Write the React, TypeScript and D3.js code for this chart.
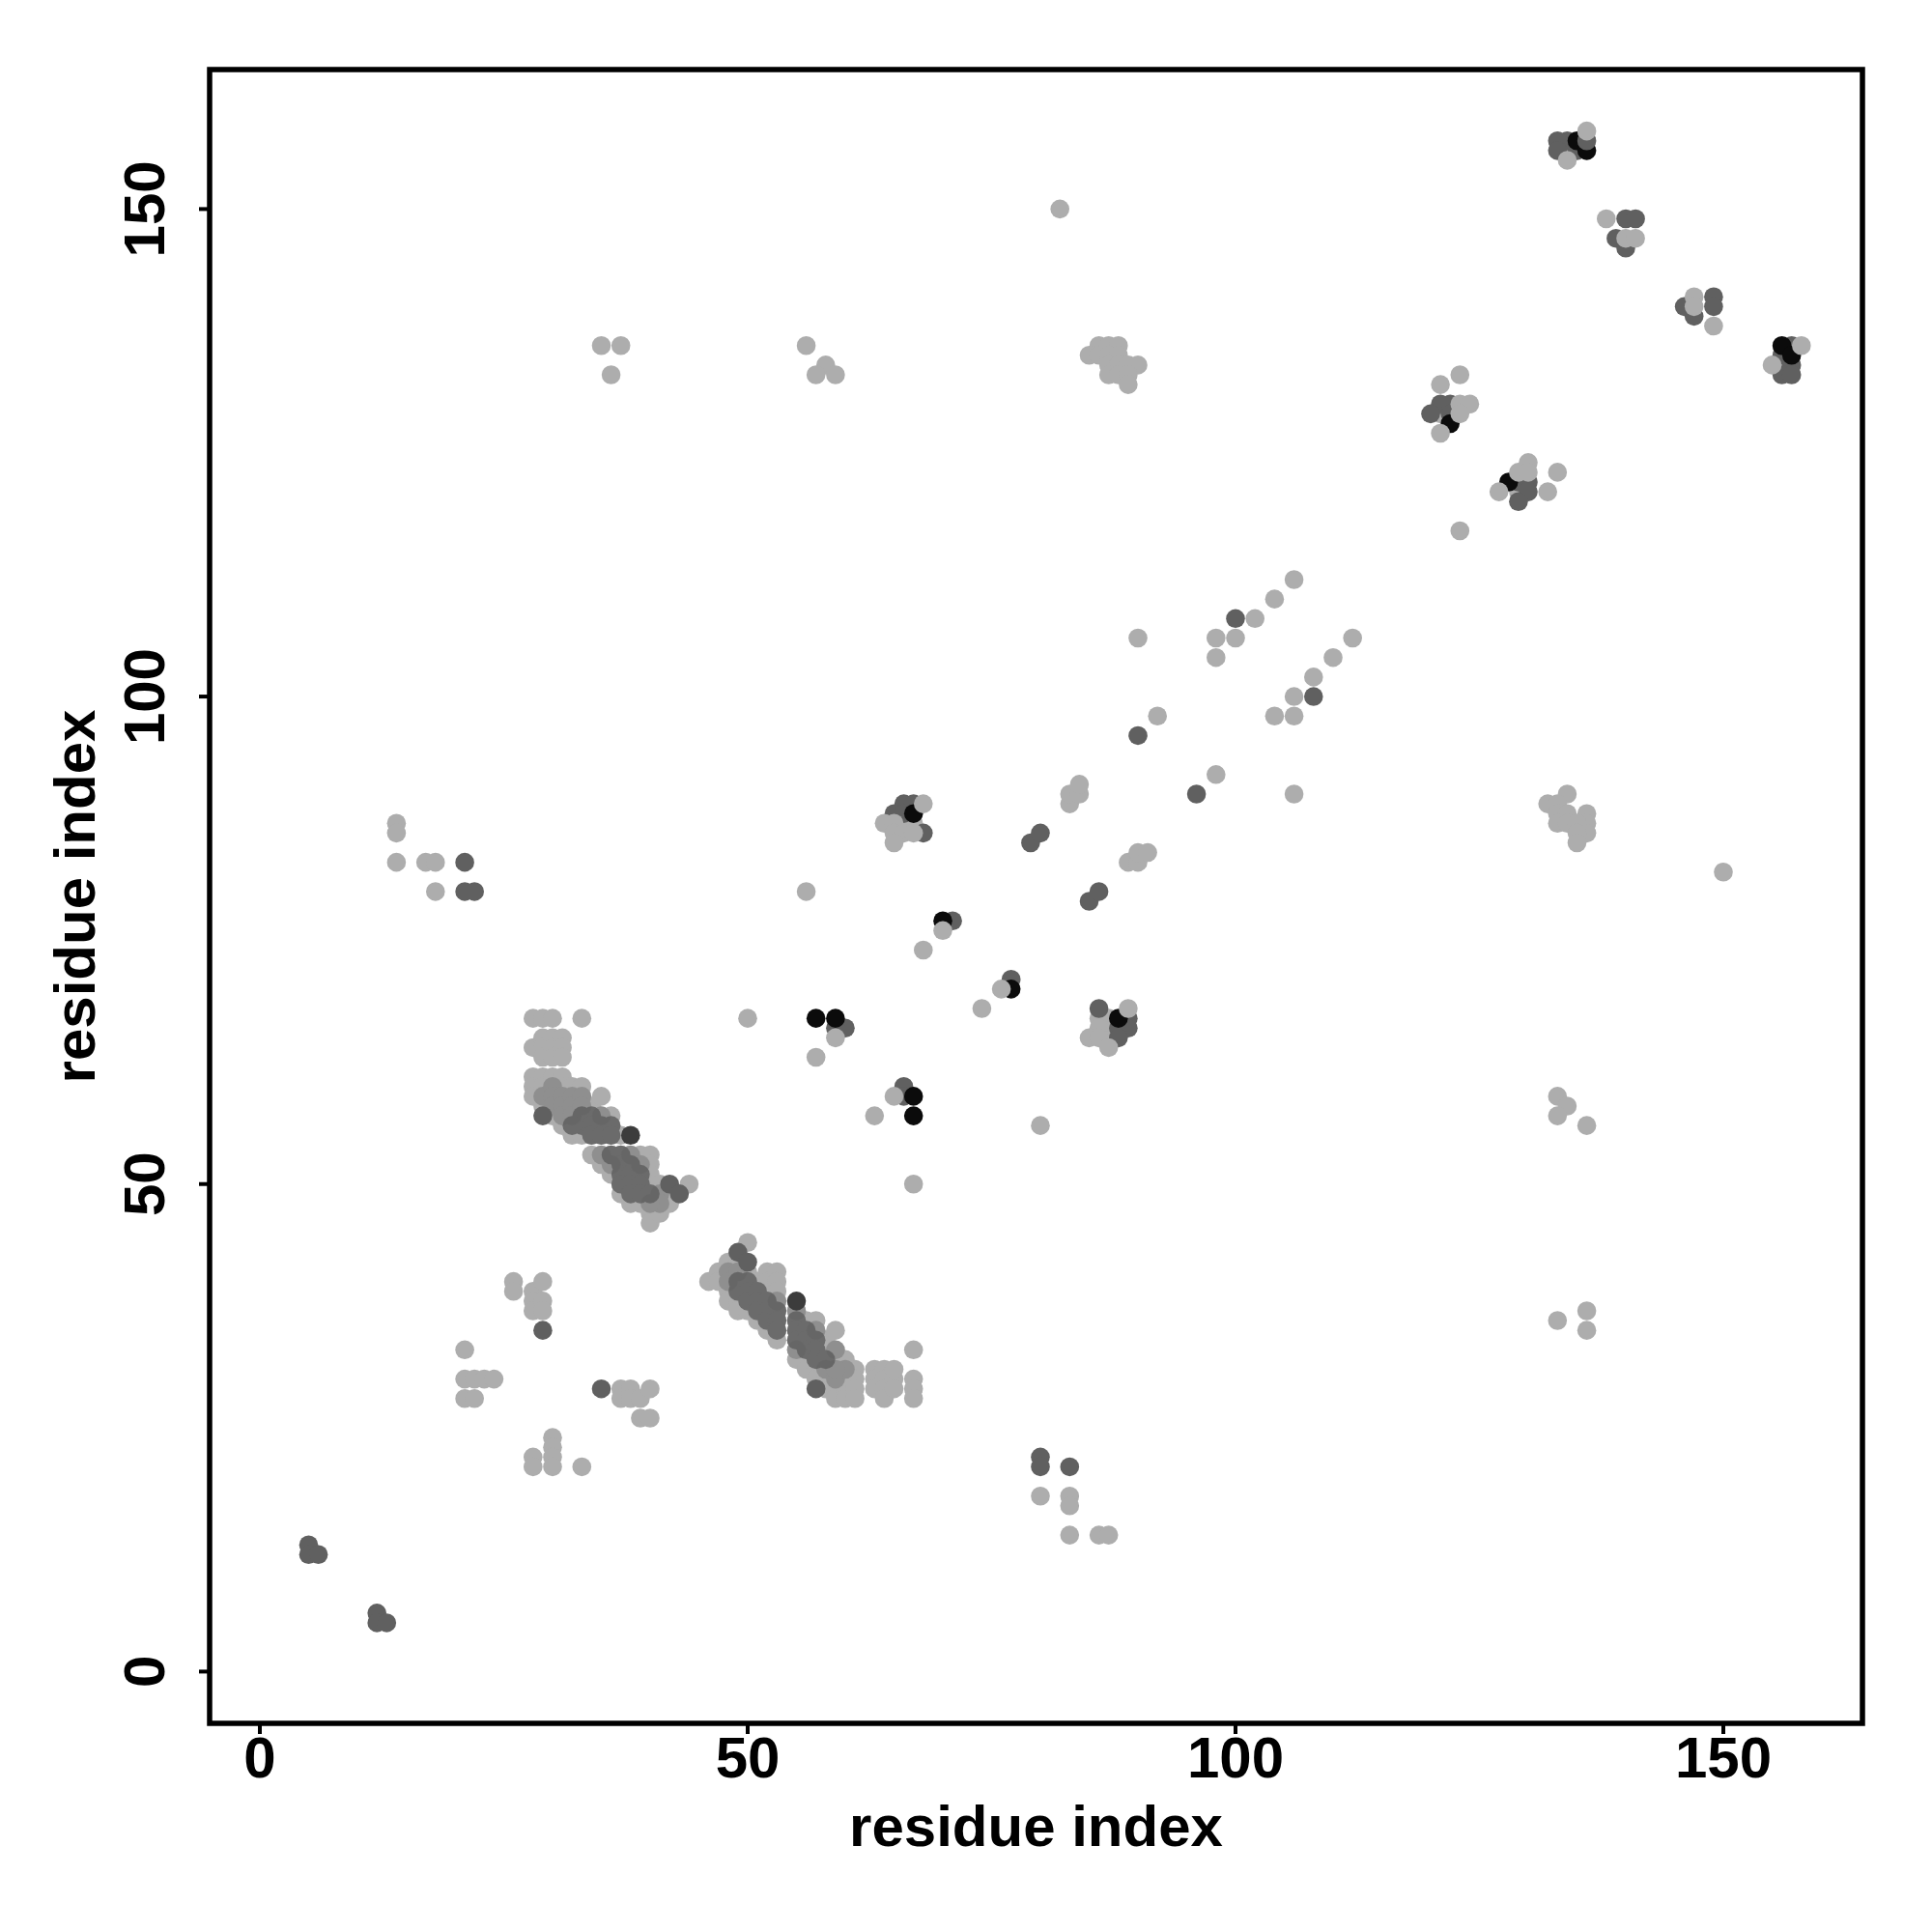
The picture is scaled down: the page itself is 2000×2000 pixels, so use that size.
import React from "react";
import * as d3 from "d3";

type P = [number, number];

const xTicks = [0, 50, 100, 150];
const yTicks = [0, 50, 100, 150];
const xLabel = "residue index";
const yLabel = "residue index";

// dense anti-parallel bands: [residue, residue]
const bandLight: P[] = [
  [28,67],[28,64],[28,61],[28,60],[28,59],
  [29,67],[29,65],[29,64],[29,63],[29,61],[29,60],[29,59],[29,58],
  [30,67],[30,65],[30,64],[30,63],[30,61],[30,60],[30,59],[30,58],[30,57],
  [31,65],[31,64],[31,63],[31,61],[31,60],[31,59],[31,58],[31,57],[31,56],
  [32,60],[32,59],[32,58],[32,57],[32,56],[32,55],
  [33,67],[33,60],[33,59],[33,58],[33,57],[33,56],[33,55],
  [34,58],[34,57],[34,56],[34,55],[34,53],
  [35,59],[35,57],[35,56],[35,55],[35,53],[35,52],
  [36,57],[36,56],[36,55],[36,53],[36,52],[36,51],
  [37,55],[37,53],[37,52],[37,51],[37,50],[37,49],
  [38,53],[38,52],[38,51],[38,50],[38,49],[38,48],
  [39,53],[39,52],[39,51],[39,50],[39,49],[39,48],
  [40,53],[40,52],[40,51],[40,50],[40,49],[40,48],[40,47],[40,46],
  [41,50],[41,49],[41,48],[41,47],[42,49],[42,48],[44,50],
  [46,40],[47,41],[47,40],[48,42],[48,41],[48,40],[48,39],[48,38],
  [49,42],[49,41],[49,40],[49,39],[49,38],[49,37],
  [50,44],[50,41],[50,40],[50,39],[50,38],[50,37],
  [51,40],[51,39],[51,38],[51,37],[51,36],
  [52,41],[52,40],[52,39],[52,38],[52,37],[52,36],[52,35],
  [53,41],[53,40],[53,39],[53,38],[53,37],[53,36],[53,35],[53,34],
  [55,37],[55,36],[55,35],[55,34],[55,33],[55,32],
  [56,36],[56,35],[56,34],[56,33],[56,32],[56,31],
  [57,36],[57,35],[57,34],[57,33],[57,32],[57,31],[57,30],
  [58,34],[58,33],[58,32],[58,31],[58,30],[58,29],
  [59,35],[59,33],[59,32],[59,31],[59,30],[59,29],[59,28],
  [60,32],[60,31],[60,30],[60,29],[60,28],
  [61,31],[61,30],[61,29],[61,28],
  [63,31],[63,30],[63,29],[64,31],[64,30],[64,29],[64,28],[65,30],[65,29],[65,31],
  [67,33],[67,30],[67,29],[67,28],
];
const bandMid: P[] = [
  [29,59],[30,60],[30,59],[30,58],[31,59],[31,58],[31,57],[32,59],[32,58],[32,57],
  [33,59],[33,58],[35,57],[35,53],[38,53],[36,52],[39,52],[41,49],[41,48],[40,48],
  [48,41],[48,40],[49,41],[53,38],[55,37],[55,33],[57,35],[58,31],[59,33],[59,30],[60,31],[59,31],
];
const bandCore: P[] = [
  [33,57],[33,56],[34,57],[34,56],[34,55],[35,56],[35,55],[36,56],[36,55],[32,56],
  [36,53],[37,53],[37,52],[38,52],[37,51],[38,51],[39,51],[37,50],[38,50],[39,50],[38,49],[39,49],[40,49],
  [49,40],[49,39],[50,40],[50,39],[50,38],[51,39],[51,38],[51,37],[52,38],[52,37],[52,36],[53,37],[53,36],[53,35],
  [55,36],[55,35],[55,34],[56,35],[56,34],[56,33],[57,34],[57,33],[57,32],[58,32],
];

const lightUnderPoints: P[] = [
  [134,156],[156,134],[121,129],[129,121],[87,67],[87,66],[87,65],[86,67],[86,66],[67,87],[66,87],
];
const darkPoints: P[] = [
  [5,13],[5,12],[6,12],[12,6],[12,5],[13,5],[29,35],[35,29],[80,22],[80,21],[83,21],
  [21,83],[21,80],[22,80],[29,57],[42,50],[43,49],[49,43],[50,42],[57,29],
  [66,60],[66,59],[60,66],[59,66],[77,71],[71,77],[85,79],[86,80],[79,85],[80,86],
  [90,96],[96,90],[108,100],[100,108],
  [86,68],[89,67],[89,66],[88,66],[88,65],
  [66,89],[67,89],[65,88],[66,88],[68,86],
  [121,130],[122,130],[120,129],[122,129],[129,122],[130,122],[130,121],[129,120],
  [134,157],[133,157],[133,156],[135,156],
  [140,149],[141,149],[139,147],[140,146],
  [146,140],[147,139],[149,141],[149,140],
  [157,136],[156,135],[157,134],[156,133],[157,133],
];
const nearBlackPoints: P[] = [[38,55],[55,38]];
const blackPoints: P[] = [
  [67,57],[67,59],[57,67],[59,67],[77,70],[70,77],[88,67],[67,88],
  [122,128],[128,122],[135,157],[136,156],[156,136],[157,135],
];
const darkTopPoints: P[] = [[136,157]];
const lightPoints: P[] = [
  [21,33],[21,30],[22,30],[23,30],[24,30],[21,28],[22,28],
  [26,40],[26,39],[28,39],[28,38],[28,37],[29,40],[29,38],[29,37],
  [37,29],[37,28],[38,29],[38,28],[39,28],[40,29],[39,26],[40,26],
  [28,22],[28,21],[30,24],[30,23],[30,22],[30,21],[33,21],
  [80,18],[83,18],[83,17],[83,14],[86,14],[87,14],
  [14,87],[14,86],[14,83],[17,83],[18,83],[18,80],[56,80],
  [67,50],[80,56],[65,59],[63,57],[50,67],[59,65],[57,63],
  [74,68],[76,70],[68,74],[70,76],
  [89,83],[90,83],[90,84],[91,84],[83,89],[83,90],[84,90],[84,91],
  [92,98],[98,92],[106,90],[104,98],[106,98],[106,100],[108,102],[110,104],[112,106],
  [90,106],[98,104],[98,106],[100,106],[102,108],[104,110],[106,112],
  [150,82],[133,59],[134,58],[133,57],[136,56],[133,36],[136,37],[136,35],
  [35,136],[37,136],[36,133],[56,136],[58,134],[57,133],[59,133],
  [82,150],[86,136],[87,136],[88,136],[85,135],[86,135],[87,135],[88,135],[87,134],[88,134],[89,134],[90,134],[87,133],[88,133],[89,133],[89,132],
  [89,68],[85,65],[86,65],[87,64],
  [68,89],[64,87],[65,87],[65,86],[66,86],[67,86],[65,85],
  [134,90],[132,89],[133,89],[133,88],[134,88],[133,87],[134,87],[136,88],[136,87],[136,86],[135,87],[135,86],[135,85],
  [123,133],[121,132],[121,127],[123,130],[124,130],[123,129],[123,117],
  [130,124],[129,123],[130,123],[127,121],[132,121],[133,123],
  [136,158],[134,155],
  [138,149],[140,147],[141,147],
  [147,141],[147,140],[149,138],
  [158,136],[155,134],
];

const layers: { points: P[]; fill: string; opacity: number }[] = [
  { points: bandLight, fill: "#adadad", opacity: 1 },
  { points: bandMid, fill: "#7c7c7c", opacity: 0.6 },
  { points: bandCore, fill: "#606060", opacity: 0.85 },
  { points: lightUnderPoints, fill: "#adadad", opacity: 1 },
  { points: darkPoints, fill: "#606060", opacity: 1 },
  { points: nearBlackPoints, fill: "#3c3c3c", opacity: 1 },
  { points: blackPoints, fill: "#0b0b0b", opacity: 1 },
  { points: darkTopPoints, fill: "#606060", opacity: 1 },
  { points: lightPoints, fill: "#adadad", opacity: 1 },
];

const FONT = "'Liberation Sans', Arial, sans-serif";
const left = 217, right = 1928, top = 72, bottom = 1784;
const x = d3.scaleLinear().domain([0, 150]).range([269, 1784]);
const y = d3.scaleLinear().domain([0, 150]).range([1730.4, 216.4]);

export default function App() {
  return (
    <svg width={2000} height={2000} style={{ position: "absolute", left: 0, top: 0, background: "#fff" }}>
      {layers.map((l, i) => (
        <g key={i} fill={l.fill} opacity={l.opacity}>
          {l.points.map(([a, b], j) => (
            <circle key={j} cx={x(a)} cy={y(b)} r={9.8} />
          ))}
        </g>
      ))}
      <rect x={left} y={top} width={right - left} height={bottom - top} fill="none" stroke="#000" strokeWidth={5.5} />
      {xTicks.map((t) => (
        <g key={t}>
          <line x1={x(t)} x2={x(t)} y1={bottom} y2={bottom + 11} stroke="#000" strokeWidth={4} />
          <text x={x(t)} y={1840} textAnchor="middle" fontFamily={FONT} fontWeight="bold" fontSize={60}>{t}</text>
        </g>
      ))}
      {yTicks.map((t) => (
        <g key={t}>
          <line x1={left} x2={left - 11} y1={y(t)} y2={y(t)} stroke="#000" strokeWidth={4} />
          <text transform={`translate(170,${y(t)}) rotate(-90)`} textAnchor="middle" fontFamily={FONT} fontWeight="bold" fontSize={60}>{t}</text>
        </g>
      ))}
      <text x={(left + right) / 2} y={1911} textAnchor="middle" fontFamily={FONT} fontWeight="bold" fontSize={60}>{xLabel}</text>
      <text transform={`translate(98,${(top + bottom) / 2}) rotate(-90)`} textAnchor="middle" fontFamily={FONT} fontWeight="bold" fontSize={60}>{yLabel}</text>
    </svg>
  );
}
